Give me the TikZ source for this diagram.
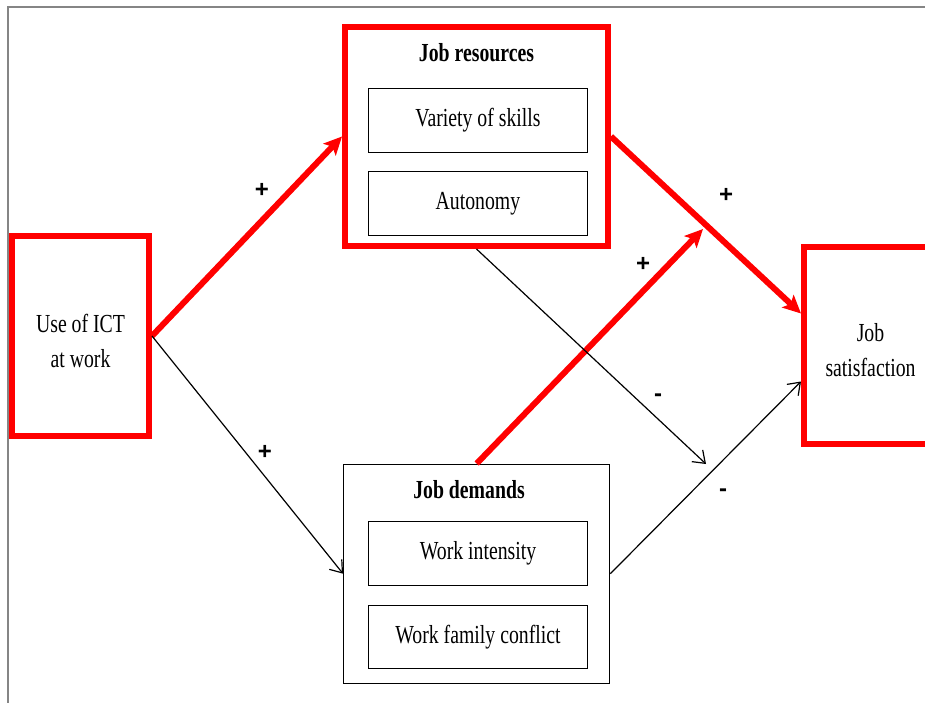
\documentclass[tikz,border=0pt]{standalone}
\usepackage{fontspec}
\setmainfont{Liberation Serif}[FakeStretch=0.76]
\newfontfamily\signfont{Liberation Sans}
\usetikzlibrary{arrows.meta}

\begin{document}
\begin{tikzpicture}[x=1pt,y=-1pt,font={\fontsize{26}{35}\selectfont},
	redbox/.style={draw=red,line width=6pt,inner sep=0pt},
	blkbox/.style={draw=black,line width=1.3pt,inner sep=0pt},
	inbox/.style={draw=black,line width=1.2pt,inner sep=0pt,minimum width=219pt,minimum height=64pt},
	boxtext/.style={align=center,inner sep=0pt},
	boxtitle/.style={font={\fontsize{26}{30}\selectfont\bfseries}},
	sign/.style={font={\signfont\bfseries\fontsize{24}{24}\selectfont}},
	redarr/.style={draw=red,line width=6pt,-{Stealth[length=18pt,width=17pt,inset=4pt]}},
	blkarr/.style={draw=black,line width=1.2pt,-{Straight Barb[length=11pt,width=16pt]}}]
		\useasboundingbox (0,0) rectangle (925,703);
		%%Khung ngoai
		\draw[color={rgb,255:red,133;green,133;blue,133},line width=2pt] (925,6.7) -| (8.2,703);
		%%Cac hop
		\node[redbox,minimum width=137pt,minimum height=199.5pt] (ict) at (80.5,336) {};
		\node[boxtext] (icttext) at ([yshift=-4.5pt]ict.center) {Use of ICT\\at work};
		\node[redbox,minimum width=263pt,minimum height=219pt] (jr) at (476.5,136.5) {};
		\node[boxtitle] (jrtitle) at (476.5,53) {Job resources};
		\node[inbox] (vs) at (478,120.3) {Variety of skills};
		\node[inbox] (au) at (477.9,203.4) {Autonomy};
		\node[blkbox,minimum width=266pt,minimum height=219pt] (jd) at (476.7,573.7) {};
		\node[boxtitle] (jdtitle) at (469,490) {Job demands};
		\node[inbox] (wi) at (478,553.7) {Work intensity};
		\node[inbox,minimum height=62.5pt] (wf) at (478,637) {Work family conflict};
		\node[redbox,minimum width=133pt,minimum height=197pt] (js) at (870.5,345.5) {};
		\node[boxtext] (jstext) at ([yshift=-5pt]js.center) {Job\\satisfaction};
		%%Cac mui ten
		\coordinate (jsin1) at ([yshift=32pt]js.west);
		\coordinate (jsin2) at ([yshift=-36pt]js.west);
		\coordinate (modA) at (703,229);
		\coordinate (modB) at (706,464);
		\draw[redarr] (ict.east) -- (jr.west);
		\draw[blkarr] (ict.east) -- (jd.west);
		\draw[redarr] (jr.east) -- (jsin1);
		\draw[blkarr] (jd.east) -- (jsin2);
		\draw[redarr] (jd.north) -- (modA);
		\draw[blkarr] (jr.south) -- (modB);
		%%Dau
		\node[sign] (s1) at (262,190) {+};
		\node[sign] (s2) at (265,452) {+};
		\node[sign] (s3) at (726,195) {+};
		\node[sign] (s4) at (643,264) {+};
		\node[sign] (s5) at (658,398) {-};
		\node[sign] (s6) at (723,493) {-};
	\end{tikzpicture}
\end{document}
